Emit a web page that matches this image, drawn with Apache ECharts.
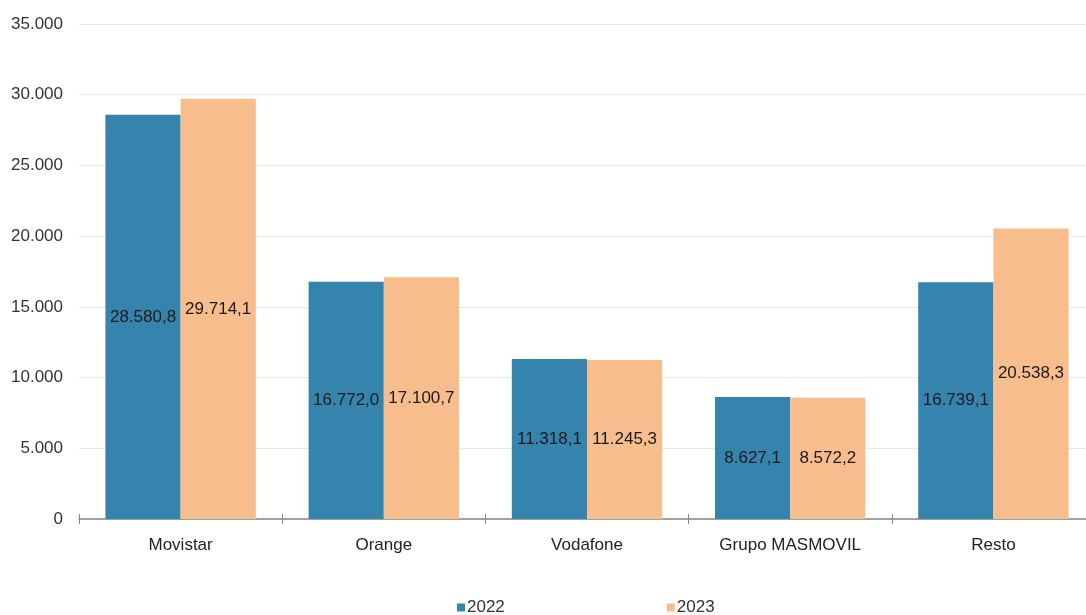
<!DOCTYPE html>
<html><head><meta charset="utf-8">
<script src="https://cdn.jsdelivr.net/npm/echarts@6/dist/echarts.min.js"></script>
<style>html,body{margin:0;padding:0;background:#fff;overflow:hidden;width:1086px;height:615px}#c{width:1095px;height:615px}</style>
</head><body><div id="c"></div>
<script>
const categories = ['Movistar', 'Orange', 'Vodafone', 'Grupo MASMOVIL', 'Resto'];
const values2022 = [28580.8, 16772.0, 11318.1, 8627.1, 16739.1];
const values2023 = [29714.1, 17100.7, 11245.3, 8572.2, 20538.3];
const seriesNames = ['2022', '2023'];

function fmtThousands(n, dec) {
  const s = n.toFixed(dec);
  const parts = s.split('.');
  const int = parts[0].replace(/\B(?=(\d{3})+(?!\d))/g, '.');
  return parts.length > 1 ? int + ',' + parts[1] : int;
}

const FONT = 'Liberation Sans, Arial, sans-serif';
const chart = echarts.init(document.getElementById('c'));
const labelCfg = {
  show: true, position: 'inside', color: '#1a1a1a',
  fontFamily: FONT, fontSize: 17,
  formatter: p => fmtThousands(p.value, 1)
};
chart.setOption({
  animation: false,
  textStyle: { fontFamily: FONT },
  grid: { left: 79, right: 0, top: 24, bottom: 96, containLabel: false },
  legend: {
    top: 594, left: 452, itemGap: 162, itemWidth: 8, itemHeight: 8,
    icon: 'rect',
    textStyle: { fontSize: 17, color: '#333', padding: [0, 0, 0, -3] },
    data: seriesNames
  },
  xAxis: [{
    type: 'category', data: categories,
    axisLine: { lineStyle: { color: '#888', width: 1.5 } },
    axisTick: { show: true, length: 5, inside: false, lineStyle: { color: '#888' } },
    axisLabel: { color: '#222', fontSize: 17, margin: 18 }
  }, {
    type: 'category', data: categories, position: 'bottom',
    axisLine: { show: false },
    axisTick: { show: true, length: 5, inside: true, lineStyle: { color: '#888' } },
    axisLabel: { show: false }
  }],
  yAxis: {
    type: 'value', min: 0, max: 35000, interval: 5000,
    axisLine: { show: false }, axisTick: { show: false },
    splitLine: { lineStyle: { color: '#e8e8e8' } },
    axisLabel: { color: '#333', fontSize: 17, margin: 16, formatter: v => fmtThousands(v, 0) }
  },
  series: [
    { name: seriesNames[0], type: 'bar', data: values2022, barGap: '0%', barCategoryGap: '26%',
      itemStyle: { color: '#3584ae' }, label: labelCfg },
    { name: seriesNames[1], type: 'bar', data: values2023, barGap: '0%', barCategoryGap: '26%',
      itemStyle: { color: '#f8bd8c' }, label: labelCfg }
  ]
});
</script></body></html>
